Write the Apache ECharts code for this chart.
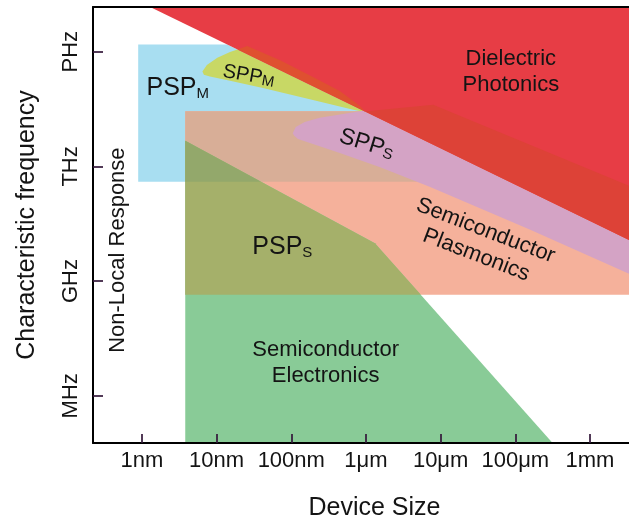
<!DOCTYPE html>
<html>
<head>
<meta charset="utf-8">
<script src="https://cdn.jsdelivr.net/npm/echarts@6/dist/echarts.min.js"></script>
<style>
  html, body { margin: 0; padding: 0; background: #ffffff; }
  #chart { width: 629px; height: 518px; }
</style>
</head>
<body>
<div id="chart"></div>
<script>
// Axes are logarithmic: x = log10(device size / m), y = log10(frequency / Hz)
const SIZE_TICKS = [-9, -8, -7, -6, -5, -4, -3];
const SIZE_LABELS = ['1nm', '10nm', '100nm', '1μm', '10μm', '100μm', '1mm'];
const FREQ_TICKS = [6, 9, 12, 15];
const FREQ_LABELS = ['MHz', 'GHz', 'THz', 'PHz'];
const SIZE_RANGE = [-9.655, -2.116];
const FREQ_RANGE = [4.765, 16.17];

// Regime outlines as [log size, log frequency] vertices
const DIELECTRIC_PHOTONICS = [[-9.3, 16.56], [-2.0, 16.56], [-2.0, 9.62]];
const PSP_METAL = [[-9.05, 15.19], [-2.0, 15.19], [-2.0, 11.60], [-9.05, 11.60]];
const SPP_METAL = [
  [-8.19, 14.48], [-8.13, 14.65], [-7.99, 14.84], [-7.82, 14.99], [-7.59, 15.15],
  [-7.15, 14.78], [-6.71, 14.34], [-6.35, 13.97], [-6.08, 13.58], [-6.00, 13.42],
  [-6.17, 13.48], [-6.71, 13.74], [-7.38, 14.05], [-7.82, 14.24], [-8.09, 14.35], [-8.17, 14.40]
];
const SEMI_PLASMONICS = [[-8.42, 13.44], [-5.99, 13.44], [-5.10, 13.61], [-2.0, 11.11], [-2.0, 8.64], [-8.42, 8.64]];
const SEMI_ELECTRONICS = [[-8.42, 12.67], [-5.88, 9.99], [-3.38, 4.5], [-8.42, 4.5]];
const SPP_SEMI = [
  [-6.98, 12.87], [-6.94, 13.03], [-6.82, 13.16], [-6.62, 13.27], [-6.35, 13.36],
  [-6.08, 13.44], [-5.54, 13.74], [-2.0, 16.0], [-2.0, 8.78], [-3.80, 10.34],
  [-5.14, 11.46], [-5.81, 11.98], [-6.35, 12.35], [-6.75, 12.61], [-6.91, 12.72], [-6.96, 12.80]
];

// Region captions and where they sit
const LABEL_TEXTS = [
  'Dielectric\nPhotonics',
  '{big|PSP}{sub|M}',
  '{spp|SPP}{sub|M}',
  '{sppS|SPP}{sub|S}',
  '{big|PSP}{sub|S}',
  'Semiconductor\nPlasmonics',
  'Semiconductor\nElectronics',
  'Non-Local Response'
];
const LABEL_ANCHORS = [
  [-4.06, 14.46], [-8.52, 14.04], [-7.57, 14.37], [-5.99, 12.59],
  [-7.12, 9.88], [-4.46, 10.00], [-6.54, 6.87], [-9.32, 9.81]
];
const LABEL_ANGLES = [0, 0, -10, -17, 0, -21, 0, 90];

// ---- styling ----
const FONT = '"Liberation Sans", Arial, Helvetica, sans-serif';
const INK = '#141414';
const COLORS = {
  red: '#e73d45', redOverSalmon: '#dd4237', redOverYellow: '#df5030',
  blue: '#a8def1', yellow: '#c8d865', salmon: '#f5b19b', tan: '#d8ae97',
  pink: '#d4a3c5', green: '#89cb97', olive: '#a5b06a', oliveDark: '#93a86b'
};

// ---- polygon clipping (Sutherland–Hodgman) ----
function side(a, b, p) {
  return (b[0] - a[0]) * (p[1] - a[1]) - (b[1] - a[1]) * (p[0] - a[0]);
}
function clipHalf(poly, a, b, keepLeft) {
  const s = p => side(a, b, p) * (keepLeft ? 1 : -1);
  const out = [];
  for (let i = 0; i < poly.length; i++) {
    const cur = poly[i], prev = poly[(i + poly.length - 1) % poly.length];
    const sc = s(cur), sp = s(prev);
    const cut = () => {
      const t = sp / (sp - sc);
      return [prev[0] + t * (cur[0] - prev[0]), prev[1] + t * (cur[1] - prev[1])];
    };
    if (sc >= 0) {
      if (sp < 0) out.push(cut());
      out.push(cur);
    } else if (sp >= 0) {
      out.push(cut());
    }
  }
  return out;
}
function area(poly) {
  let s = 0;
  for (let i = 0; i < poly.length; i++) {
    const p = poly[i], q = poly[(i + 1) % poly.length];
    s += p[0] * q[1] - q[0] * p[1];
  }
  return s / 2;
}
function clipConvex(subject, clip) {
  const ccw = area(clip) > 0;
  let out = subject;
  for (let i = 0; i < clip.length && out.length; i++) {
    out = clipHalf(out, clip[i], clip[(i + 1) % clip.length], ccw);
  }
  return out;
}

// the dielectric light-line edge
const EDGE_A = DIELECTRIC_PHOTONICS[0];
const EDGE_B = DIELECTRIC_PHOTONICS[2];

const bluePart = clipHalf(PSP_METAL, EDGE_A, EDGE_B, false);
const olivePart = clipConvex(SEMI_PLASMONICS, SEMI_ELECTRONICS);

const SHAPES = [
  { poly: bluePart, color: COLORS.blue },
  { poly: SEMI_PLASMONICS, color: COLORS.salmon },
  { poly: clipConvex(SEMI_PLASMONICS, bluePart), color: COLORS.tan },
  { poly: SEMI_ELECTRONICS, color: COLORS.green },
  { poly: olivePart, color: COLORS.olive },
  { poly: clipConvex(olivePart, bluePart), color: COLORS.oliveDark },
  { poly: clipHalf(SPP_METAL, EDGE_A, EDGE_B, false), color: COLORS.yellow },
  { poly: clipHalf(SPP_SEMI, EDGE_A, EDGE_B, false), color: COLORS.pink },
  { poly: DIELECTRIC_PHOTONICS, color: COLORS.red },
  { poly: clipHalf(SPP_METAL, EDGE_A, EDGE_B, true), color: COLORS.redOverYellow },
  { poly: clipHalf(SEMI_PLASMONICS, EDGE_A, EDGE_B, true), color: COLORS.redOverSalmon }
];

const RICH = {
  big: { fontSize: 25, lineHeight: 25, verticalAlign: 'bottom', fontFamily: FONT, fill: INK },
  spp: { fontSize: 20, lineHeight: 20, verticalAlign: 'bottom', fontFamily: FONT, fill: INK },
  sppS: { fontSize: 23, lineHeight: 23, verticalAlign: 'bottom', fontFamily: FONT, fill: INK },
  sub: { fontSize: 15, lineHeight: 12, verticalAlign: 'bottom', fontFamily: FONT, fill: INK }
};

const sizeLabel = v => SIZE_LABELS[SIZE_TICKS.indexOf(Math.round(v))] || '';
const freqLabel = v => FREQ_LABELS[FREQ_TICKS.indexOf(Math.round(v))] || '';
const TICK_COLOR = 'rgba(52, 24, 58, 0.85)';

const chart = echarts.init(document.getElementById('chart'), null, { renderer: 'canvas' });
chart.setOption({
  animation: false,
  backgroundColor: '#ffffff',
  grid: { left: 93, top: 7, right: -27, bottom: 75, outerBoundsMode: 'none', containLabel: false },
  xAxis: [{
    type: 'value', position: 'bottom', min: SIZE_RANGE[0], max: SIZE_RANGE[1], z: 5,
    axisLine: { lineStyle: { color: '#000', width: 2 } },
    axisTick: { inside: true, length: 9, customValues: SIZE_TICKS, lineStyle: { color: TICK_COLOR, width: 2 } },
    axisLabel: { customValues: SIZE_TICKS, formatter: sizeLabel, fontSize: 22, fontFamily: FONT, color: INK, margin: 7 },
    splitLine: { show: false },
    name: 'Device Size', nameLocation: 'middle', nameGap: 53,
    nameTextStyle: { fontSize: 25, fontFamily: FONT, color: INK }
  }, {
    type: 'value', position: 'top', min: SIZE_RANGE[0], max: SIZE_RANGE[1], z: 5,
    axisLine: { lineStyle: { color: '#000', width: 2 } },
    axisTick: { show: false }, axisLabel: { show: false }, splitLine: { show: false }
  }],
  yAxis: {
    type: 'value', min: FREQ_RANGE[0], max: FREQ_RANGE[1], z: 5,
    axisLine: { lineStyle: { color: '#000', width: 2 } },
    axisTick: { inside: true, length: 10, customValues: FREQ_TICKS, lineStyle: { color: TICK_COLOR, width: 2 } },
    axisLabel: { customValues: FREQ_TICKS, formatter: freqLabel, rotate: 90, fontSize: 22, fontFamily: FONT, color: INK, margin: 11 },
    splitLine: { show: false },
    name: 'Characteristic frequency', nameLocation: 'middle', nameGap: 53,
    nameTextStyle: { fontSize: 25, fontFamily: FONT, color: INK }
  },
  series: [{
    type: 'custom',
    name: 'regimes',
    silent: true,
    clip: true,
    xAxisIndex: 0,
    data: SHAPES.map((_, i) => [i]),
    renderItem: (params, api) => {
      const shape = SHAPES[params.dataIndex];
      if (!shape.poly.length) return null;
      return {
        type: 'polygon',
        shape: { points: shape.poly.map(p => api.coord(p)) },
        style: { fill: shape.color }
      };
    }
  }, {
    type: 'custom',
    name: 'captions',
    silent: true,
    z: 3,
    xAxisIndex: 0,
    data: LABEL_TEXTS.map((_, i) => [i]),
    renderItem: (params, api) => {
      const i = params.dataIndex;
      const pt = api.coord(LABEL_ANCHORS[i]);
      return {
        type: 'text',
        x: pt[0], y: pt[1],
        rotation: LABEL_ANGLES[i] * Math.PI / 180,
        style: {
          text: LABEL_TEXTS[i], x: 0, y: 0,
          align: 'center', verticalAlign: 'middle',
          fill: INK, fontFamily: FONT, fontSize: 22, lineHeight: 26,
          rich: RICH
        }
      };
    }
  }]
});
</script>
</body>
</html>
